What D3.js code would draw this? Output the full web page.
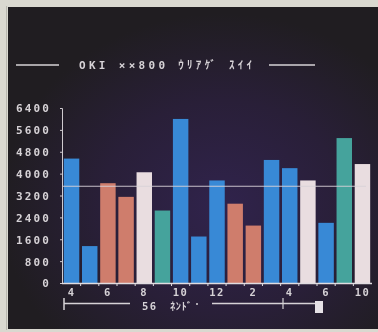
<!DOCTYPE html>
<html><head><meta charset="utf-8">
<script src="https://cdn.jsdelivr.net/npm/d3@7"></script>
<style>
html,body{margin:0;padding:0;background:#dad8d0;}
svg{display:block;}
text{font-family:"DejaVu Sans Mono","Noto Sans CJK JP",monospace;fill:#d6d2d6;font-weight:bold;}
</style></head>
<body><svg id="c" width="378" height="332"></svg>
<script>
// ---- data ----
const categories = ["4","5","6","7","8","9","10","11","12","1","2","3","4","5","6","7","8"];
const values = [4550,1350,3650,3150,4050,2650,6000,1700,3750,2900,2100,4500,4200,3750,2200,5300,4350];
const colorKeys = ["b","b","s","s","w","t","b","b","b","s","s","b","b","w","b","t","w"];
const tickLabels = ["4","","6","","8","","10","","12","","2","","4","","6","","10"];
const yTicks = [0,800,1600,2400,3200,4000,4800,5600,6400];
const title = "OKI ××800 ｳﾘｱｹﾞ ｽｲｲ";
const periodLabel = "56 ﾈﾝﾄﾞ";

const palette = {b:"#3889d6", s:"#cf7d6c", w:"#e9dde0", t:"#45a39c"};

const svg = d3.select("#c");
const W = 378, H = 332;

// background / screen
const defs = svg.append("defs");
const rg = defs.append("radialGradient").attr("id","glow")
  .attr("cx","0.58").attr("cy","0.62").attr("r","0.6");
rg.append("stop").attr("offset","0").attr("stop-color","#30234c");
rg.append("stop").attr("offset","0.55").attr("stop-color","#291f38");
rg.append("stop").attr("offset","1").attr("stop-color","#201d21");
const bl = defs.append("filter").attr("id","soft").attr("x","-10%").attr("y","-10%").attr("width","120%").attr("height","120%");
bl.append("feGaussianBlur").attr("stdDeviation","0.45");

svg.append("rect").attr("width",W).attr("height",H).attr("fill","#dad8d0");
svg.append("rect").attr("x",8).attr("y",7).attr("width",W-8).attr("height",322).attr("fill","url(#glow)");
svg.append("rect").attr("x",6).attr("y",6).attr("width",1).attr("height",324).attr("fill","#b8b6ae");

const g = svg.append("g").attr("filter","url(#soft)");

// scales
const x = d3.scaleBand().domain(d3.range(values.length)).range([62,372]).paddingInner(0.15).paddingOuter(0.1);
const y = d3.scaleLinear().domain([0,6400]).range([283,108]);

// bars
g.selectAll("rect.bar").data(values).join("rect").attr("class","bar")
  .attr("x",(d,i)=>x(i)).attr("width",x.bandwidth())
  .attr("y",d=>y(d)).attr("height",d=>y(0)-y(d))
  .attr("fill",(d,i)=>palette[colorKeys[i]]);

// y axis
const yAxis = d3.axisLeft(y).tickValues(yTicks).tickSize(2).tickPadding(9).tickFormat(d=>String(d));
const ya = g.append("g").attr("transform","translate(62,0)").call(yAxis);
ya.select(".domain").attr("stroke","#cfcacf").attr("stroke-width",1);
ya.selectAll(".tick line").attr("stroke","#cfcacf");
ya.selectAll(".tick text").attr("font-size",11).attr("letter-spacing","2.1")
  .attr("fill","#d6d2d6").attr("font-family","DejaVu Sans Mono").attr("dy","0.36em");

// baseline + gap ticks
g.append("line").attr("x1",62).attr("x2",372).attr("y1",y(0)+0.5).attr("y2",y(0)+0.5)
  .attr("stroke","#e0dce0").attr("stroke-width",1.5);
const gap = x.step()*x.paddingInner();
g.selectAll("line.gt").data(d3.range(1,values.length)).join("line").attr("class","gt")
  .attr("x1",i=>x(i)-gap/2).attr("x2",i=>x(i)-gap/2)
  .attr("y1",y(0)).attr("y2",y(0)+3).attr("stroke","#e0dce0").attr("stroke-width",1);

// x labels
g.selectAll("text.xl").data(tickLabels).join("text").attr("class","xl")
  .attr("x",(d,i)=>x(i)+x.bandwidth()/2).attr("y",296)
  .attr("text-anchor","middle").attr("font-size",10.5).attr("letter-spacing","1.5")
  .text(d=>d);

// average line
const avg = d3.mean(values);
g.append("line").attr("x1",63).attr("x2",366).attr("y1",y(avg)).attr("y2",y(avg))
  .attr("stroke","#d8d2d8").attr("stroke-width",1.2).attr("opacity",0.9);

// title
g.append("line").attr("x1",16).attr("x2",59).attr("y1",65).attr("y2",65).attr("stroke","#d6d2d6").attr("stroke-width",1.5);
g.append("line").attr("x1",269).attr("x2",315).attr("y1",65).attr("y2",65).attr("stroke","#d6d2d6").attr("stroke-width",1.5);
g.append("text").attr("x",79).attr("y",69).attr("font-size",11)
  .attr("textLength",173).attr("lengthAdjust","spacing").text(title);

// period slider row
g.append("line").attr("x1",64).attr("x2",64).attr("y1",298).attr("y2",310).attr("stroke","#d6d2d6").attr("stroke-width",1.5);
g.append("line").attr("x1",64).attr("x2",130).attr("y1",303.5).attr("y2",303.5).attr("stroke","#d6d2d6").attr("stroke-width",1.5);
g.append("text").attr("x",142).attr("y",310).attr("font-size",10.5).attr("letter-spacing","1.5").text(periodLabel.split(" ")[0]);
g.append("text").attr("x",170).attr("y",310).attr("font-size",10.5).attr("textLength",22).attr("lengthAdjust","spacing").text(periodLabel.split(" ")[1]);
g.append("circle").attr("cx",197).attr("cy",304).attr("r",1).attr("fill","#d6d2d6");
g.append("line").attr("x1",212).attr("x2",316).attr("y1",303.5).attr("y2",303.5).attr("stroke","#d6d2d6").attr("stroke-width",1.5);
g.append("line").attr("x1",283).attr("x2",283).attr("y1",298).attr("y2",309).attr("stroke","#d6d2d6").attr("stroke-width",1.2);
g.append("rect").attr("x",315).attr("y",301).attr("width",8).attr("height",12).attr("fill","#e6e2e6");
</script></body></html>
